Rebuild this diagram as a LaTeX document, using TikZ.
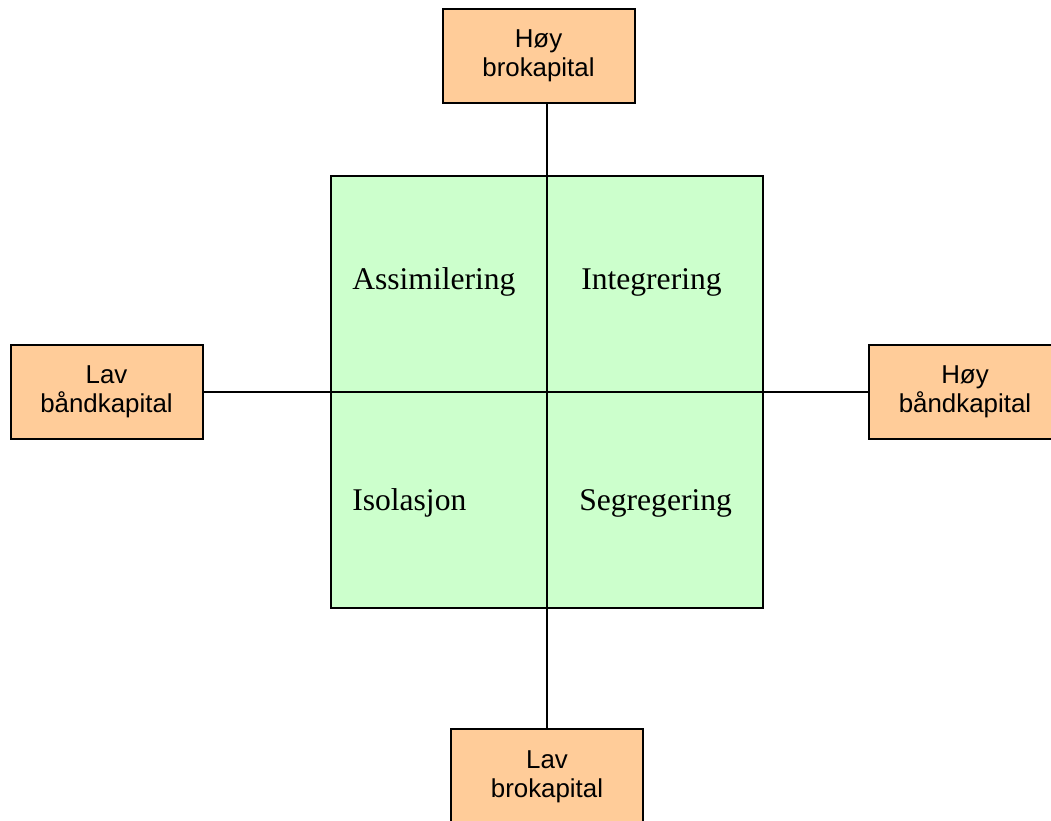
\documentclass[tikz,border=0pt]{standalone}
\usepackage{fontspec}
\setmainfont{Liberation Serif}
\setsansfont{Liberation Sans}
\usetikzlibrary{positioning}
\definecolor{kapital}{HTML}{FFCC99}
\definecolor{feltgronn}{HTML}{CCFFCC}

\begin{document}
\begin{tikzpicture}[x=0.75pt,y=-0.75pt,
  kbox/.style={draw,fill=kapital,line width=1.5pt,minimum width=144pt,minimum height=71pt,align=center,inner sep=0pt,font=\sffamily\fontsize{19.4}{21.8}\selectfont},
  qlabel/.style={anchor=base west,inner sep=0pt,font=\fontsize{23.7}{26}\selectfont}]
\useasboundingbox (0,0) rectangle (1051,821);
\node[draw,fill=feltgronn,line width=1.5pt,minimum size=324pt,inner sep=0pt] (sq) at (547,392) {};
\node[kbox] (topp) at (538.5,56) {Høy\\brokapital};
\node[kbox] (bunn) at (547,776.5) {Lav\\brokapital};
\node[kbox] (venstre) at (106.5,392) {Lav\\båndkapital};
\node[kbox] (hoyre) at (965,392) {Høy\\båndkapital};
\draw[line width=1.1pt] (topp.south -| sq.center) -- (bunn.north -| sq.center);
\draw[line width=1.1pt] (venstre.east) -- (hoyre.west);
\node[qlabel] (assim) at (352,289) {Assimilering};
\node[qlabel] (integ) at (581,289) {Integrering};
\node[qlabel] (isol) at (352,510) {Isolasjon};
\node[qlabel] (segr) at (579,510) {Segregering};
\end{tikzpicture}
\end{document}
